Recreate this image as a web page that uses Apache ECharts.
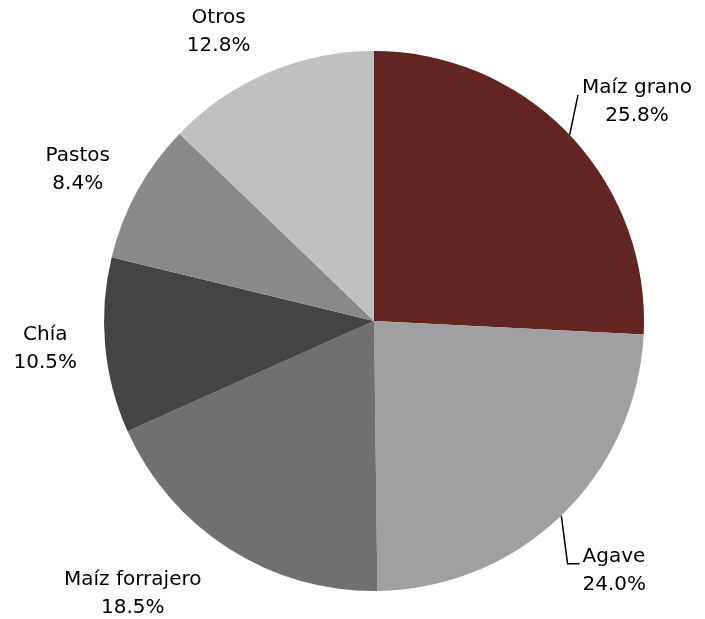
<!DOCTYPE html>
<html><head><meta charset="utf-8">
<script src="https://cdn.jsdelivr.net/npm/echarts@6/dist/echarts.min.js"></script>
<style>html,body{margin:0;padding:0;background:#fff}#c{width:705px;height:619px}</style>
</head><body><div id="c"></div>
<script>
const categories = ['Maíz grano', 'Agave', 'Maíz forrajero', 'Chía', 'Pastos', 'Otros'];
const values = [25.8, 24.0, 18.5, 10.5, 8.4, 12.8];
const colors = ['#632523', '#A0A0A0', '#707070', '#444444', '#898989', '#C0C0C0'];
const showLine = [true, true, false, false, false, false];
const labelAlign = ['center', 'left', 'center', 'center', 'center', 'center'];
const labelDx = [25, -20, -60, -8, -12, -19];
const labelDy = [-9, 30, 16, 0, -4, -9];

const chart = echarts.init(document.getElementById('c'));
chart.setOption({
  animation: false,
  series: [{
    type: 'pie',
    center: [374, 321],
    radius: 270,
    startAngle: 90,
    clockwise: true,
    avoidLabelOverlap: false,
    itemStyle: { borderWidth: 0 },
    label: {
      show: true,
      position: 'outside',
      alignTo: 'none',
      fontFamily: '"DejaVu Sans", sans-serif',
      fontSize: 20,
      lineHeight: 28,
      color: '#000',
      formatter: p => p.name + '\n' + p.value.toFixed(1) + '%'
    },
    labelLine: { show: true, length: 35, length2: 12, lineStyle: { color: '#000', width: 1.5 } },
    labelLayout: p => {
      const r = p.labelRect, i = p.dataIndex;
      const ax = p.align === 'left' ? r.x : (p.align === 'right' ? r.x + r.width : r.x + r.width / 2);
      const ay = r.y + r.height / 2;
      const nx = ax + labelDx[i], ny = ay + labelDy[i];
      const out = { x: nx, y: ny, align: labelAlign[i], verticalAlign: 'middle' };
      if (showLine[i] && p.labelLinePoints) {
        const s = p.labelLinePoints[0];
        const left = labelAlign[i] === 'center' ? nx - r.width / 2 : nx;
        if (i === 0) {
          const e = [left - 4, ny - 7];
          out.labelLinePoints = [s, [(s[0] + e[0]) / 2, (s[1] + e[1]) / 2], e];
        } else {
          out.labelLinePoints = [s, [left - 15, ny - 7], [left - 3, ny - 7]];
        }
      }
      return out;
    },
    data: categories.map((c, i) => ({
      name: c, value: values[i],
      itemStyle: { color: colors[i] },
      labelLine: { show: showLine[i] }
    }))
  }]
});
</script></body></html>
